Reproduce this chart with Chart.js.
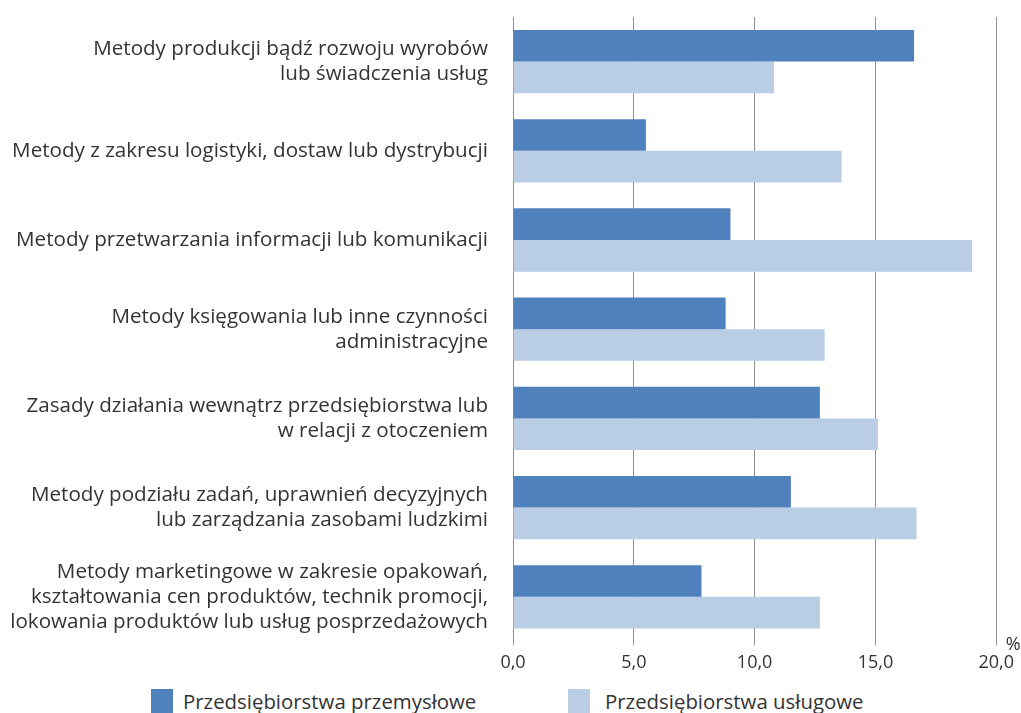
<!DOCTYPE html>
<html>
<head>
<meta charset="utf-8">
<script src="https://cdn.jsdelivr.net/npm/chart.js@4.4.1/dist/chart.umd.min.js"></script>
<style>
  html, body { margin: 0; padding: 0; background: #fff; overflow: hidden; }
  #wrap { position: relative; width: 1021px; height: 713px; overflow: hidden; }
  #chartCanvas { position: absolute; left: 0; top: 0; }
  .legend { position: absolute; top: 689px; font-family: "Open Sans", sans-serif; font-size: 20.4px; line-height: 24px; color: #333; white-space: nowrap; }
  .box { position: absolute; top: 689px; width: 22px; height: 24px; }
</style>
</head>
<body>
<div id="wrap">
  <canvas id="chartCanvas" width="1021" height="685"></canvas>
  <div class="box" style="left:151px;background:#4F81BD"></div>
  <div class="legend" style="left:183px">Przedsiębiorstwa przemysłowe</div>
  <div class="box" style="left:568px;background:#B9CDE5"></div>
  <div class="legend" style="left:605px">Przedsiębiorstwa usługowe</div>
</div>
<script>
/********** DATA **********/
const categories = [
  ["Metody produkcji bądź rozwoju wyrobów", "lub świadczenia usług"],
  ["Metody z zakresu logistyki, dostaw lub dystrybucji"],
  ["Metody przetwarzania informacji lub komunikacji"],
  ["Metody księgowania lub inne czynności", "administracyjne"],
  ["Zasady działania wewnątrz przedsiębiorstwa lub", "w relacji z otoczeniem"],
  ["Metody podziału zadań, uprawnień decyzyjnych", "lub zarządzania zasobami ludzkimi"],
  ["Metody marketingowe w zakresie opakowań,", "kształtowania cen produktów, technik promocji,", "lokowania produktów lub usług posprzedażowych"]
];
const industryValues = [16.6, 5.5, 9.0, 8.8, 12.7, 11.5, 7.8];
const servicesValues = [10.8, 13.6, 19.0, 12.9, 15.1, 16.7, 12.7];
const seriesNames = ["Przedsiębiorstwa przemysłowe", "Przedsiębiorstwa usługowe"];
const xTicks = [0, 5, 10, 15, 20];

const textColor = "#333333";
const fontFamily = "'Open Sans', sans-serif";

// draws the "%" unit next to the end of the value axis
const unitLabel = {
  id: "unitLabel",
  afterDraw(chart) {
    const ctx = chart.ctx;
    const area = chart.chartArea;
    ctx.save();
    ctx.fillStyle = textColor;
    ctx.font = "18px " + fontFamily;
    ctx.textAlign = "center";
    ctx.textBaseline = "middle";
    ctx.fillText("%", area.right + 17, area.bottom + 3);
    ctx.restore();
  }
};

const ctx = document.getElementById("chartCanvas").getContext("2d");
new Chart(ctx, {
  type: "bar",
  data: {
    labels: categories,
    datasets: [
      {
        label: seriesNames[0],
        data: industryValues,
        backgroundColor: "#4F81BD",
        categoryPercentage: 0.71,
        barPercentage: 1.0
      },
      {
        label: seriesNames[1],
        data: servicesValues,
        backgroundColor: "#B9CDE5",
        categoryPercentage: 0.71,
        barPercentage: 1.0
      }
    ]
  },
  options: {
    indexAxis: "y",
    responsive: false,
    animation: false,
    layout: { padding: { top: 17, right: 22, bottom: 4, left: 0 } },
    plugins: {
      legend: { display: false },
      tooltip: { enabled: false }
    },
    scales: {
      x: {
        min: 0,
        max: 20,
        afterBuildTicks: scale => { scale.ticks = xTicks.map(v => ({ value: v })); },
        grid: { color: "#8f8f8f", lineWidth: 1, drawTicks: true, tickLength: 4 },
        border: { display: false },
        ticks: {
          color: textColor,
          padding: 7,
          font: { family: fontFamily, size: 18 },
          callback: v => v.toFixed(1).replace(".", ",")
        }
      },
      y: {
        afterFit: scale => {
          scale.width = 513;
          scale.paddingTop = 0;
          scale.paddingBottom = 0;
        },
        grid: { display: false },
        border: { display: false },
        ticks: {
          color: textColor,
          padding: 17,
          font: { family: fontFamily, size: 20.6, lineHeight: 1.21 }
        }
      }
    }
  },
  plugins: [unitLabel]
});
</script>
</body>
</html>
